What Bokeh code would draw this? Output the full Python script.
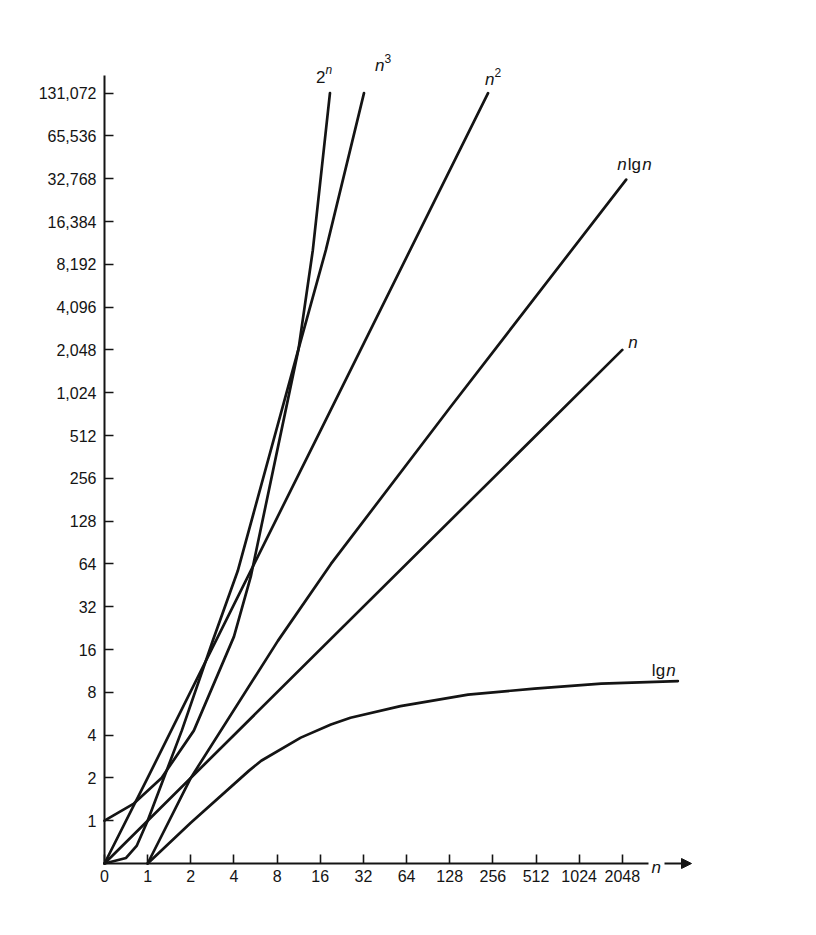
import numpy as np
from bokeh.plotting import figure
from bokeh.models import Range1d, LinearAxis, FixedTicker, Arrow, NormalHead
from bokeh.embed import file_html
from bokeh.resources import INLINE
from bokeh.core.properties import value

# ---------------- data ----------------
x_ticks = [0, 1, 2, 4, 8, 16, 32, 64, 128, 256, 512, 1024, 2048]
x_tick_labels = ["0", "1", "2", "4", "8", "16", "32", "64", "128", "256", "512", "1024", "2048"]
y_ticks = [1, 2, 4, 8, 16, 32, 64, 128, 256, 512, 1024, 2048, 4096, 8192,
           16384, 32768, 65536, 131072]
y_tick_labels = ["1", "2", "4", "8", "16", "32", "64", "128", "256", "512", "1,024",
                 "2,048", "4,096", "8,192", "16,384", "32,768", "65,536", "131,072"]

pow2_n = [0, 0.68, 1.25, 2.1, 4, 5.24, 11.3, 14.2, 18.7]
pow2_v = [1, 1.32, 2, 4.3, 19.7, 52, 2090, 10300, 131072]

cube_n = [0, 0.5, 0.75, 1, 1.73, 2.85, 4.25, 11.3, 17.5, 32.3]
cube_v = [0, 0.13, 0.42, 1, 4.3, 18.5, 57, 2090, 10300, 131072]

sq_n = [0, 1, 16, 237]
sq_v = [0, 2, 550, 131072]

nlgn_n = [1, 2, 8.1, 19, 128, 2180]
nlgn_v = [0, 2, 18.4, 64, 800, 32300]

lin_n = [0, 1, 2048]
lin_v = [0, 1, 2048]

lg_n = [1, 2, 5.1, 6.2, 11.7, 19, 26, 58, 172, 500, 1460, 5000]
lg_v = [0, 0.95, 2.25, 2.64, 3.84, 4.75, 5.3, 6.4, 7.7, 8.5, 9.2, 9.6]

# ---------------- scale of the chart: log2 above 1, linear 0..1 ----------------
def pos(a):
    a = np.asarray(a, dtype=float)
    return np.where(a >= 1, np.log2(np.maximum(a, 1)), a - 1)

X_PX = 43.15   # pixels per doubling, x
Y_PX = 42.8    # pixels per doubling, y
LEFT_PAD = 84  # frame extends this far left of the vertical axis (room for labels)
BELOW = 32     # frame extends this far below the horizontal axis
FRAME_W = 700
FRAME_H = 823 + BELOW
x0 = -1.0 - LEFT_PAD / X_PX
x1 = x0 + FRAME_W / X_PX
y0 = -1.0 - BELOW / Y_PX
y1 = y0 + FRAME_H / Y_PX

INK = "#141414"
FONT = "Liberation Sans"

p = figure(frame_width=FRAME_W, frame_height=FRAME_H,
           x_range=Range1d(x0, x1), y_range=Range1d(y0, y1),
           x_axis_type=None, y_axis_type=None,
           min_border_left=20, min_border_top=40, min_border_right=60, min_border_bottom=10,
           output_backend="svg", toolbar_location=None)
p.outline_line_color = None
p.background_fill_color = "white"
p.border_fill_color = "white"

xt = [int(t) for t in pos(x_ticks)]
yt = [int(t) for t in pos(y_ticks)]

xaxis = LinearAxis(ticker=FixedTicker(ticks=xt),
                   major_label_overrides={t: lab for t, lab in zip(xt, x_tick_labels)},
                   bounds=(-1, -1 + 544 / X_PX), fixed_location=-1)
yaxis = LinearAxis(ticker=FixedTicker(ticks=yt),
                   major_label_overrides={t: lab for t, lab in zip(yt, y_tick_labels)},
                   bounds=(-1, -1 + 788 / Y_PX), fixed_location=-1)
for ax in (xaxis, yaxis):
    ax.axis_line_width = 2
    ax.axis_line_color = INK
    ax.major_tick_in = 9
    ax.major_tick_out = 0
    ax.major_tick_line_width = 1.6
    ax.major_tick_line_color = INK
    ax.minor_tick_line_color = None
    ax.major_label_text_font = FONT
    ax.major_label_text_font_size = "16px"
    ax.major_label_text_color = INK
xaxis.major_label_standoff = 6
yaxis.major_label_standoff = 8
p.add_layout(xaxis, "below")
p.add_layout(yaxis, "left")

curves = [(pow2_n, pow2_v), (cube_n, cube_v), (sq_n, sq_v),
          (nlgn_n, nlgn_v), (lin_n, lin_v), (lg_n, lg_v)]
for cn, cv in curves:
    p.line(pos(cn), pos(cv), line_width=2.7, line_color=INK,
           line_join="round", line_cap="round")

# ---------------- curve labels, placed by pixel offsets from each curve's end ----------------
def at_end(cn, cv, dx, dy):
    ex = float(pos(cn)[-1])
    ey = float(pos(cv)[-1])
    return ex + dx / X_PX, ey - dy / Y_PX

pieces = [
    # curve, dx, dy, text, size, style
    ((pow2_n, pow2_v), -14, -16, "2", "17px", "normal"),
    ((pow2_n, pow2_v), -4.5, -23, "n", "12px", "italic"),
    ((cube_n, cube_v), 11, -28, "n", "17px", "italic"),
    ((cube_n, cube_v), 20.5, -35, "3", "12px", "normal"),
    ((sq_n, sq_v), -3, -14, "n", "17px", "italic"),
    ((sq_n, sq_v), 6.5, -21, "2", "12px", "normal"),
    ((nlgn_n, nlgn_v), -9, -15, "n", "17px", "italic"),
    ((nlgn_n, nlgn_v), 1.5, -15, "lg", "17px", "normal"),
    ((nlgn_n, nlgn_v), 16, -15, "n", "17px", "italic"),
    ((lin_n, lin_v), 6, -7, "n", "17px", "italic"),
    ((lg_n, lg_v), -26, -11, "lg", "17px", "normal"),
    ((lg_n, lg_v), -11.5, -11, "n", "17px", "italic"),
]
for (cn, cv), dx, dy, txt, size, style in pieces:
    tx, ty = at_end(cn, cv, dx, dy)
    p.text(x=[tx], y=[ty], text=[txt], text_font=value(FONT), text_font_size=size,
           text_font_style=style, text_color=INK, text_align="left",
           text_baseline="alphabetic")

# ---------------- "n ->" at the end of the horizontal axis ----------------
ax_end = -1 + 544 / X_PX
p.text(x=[ax_end + 3 / X_PX], y=[-1 - 4 / Y_PX], text=["n"], text_font=value(FONT),
       text_font_size="17px", text_font_style="italic", text_color=INK,
       text_align="left", text_baseline="alphabetic")
p.add_layout(Arrow(x_start=ax_end + 16 / X_PX, y_start=-1, x_end=ax_end + 43 / X_PX, y_end=-1,
                   line_width=2, line_color=INK,
                   end=NormalHead(size=10, fill_color=INK, line_color=INK, line_width=1)))

open("out.html", "w").write(file_html(p, INLINE))
